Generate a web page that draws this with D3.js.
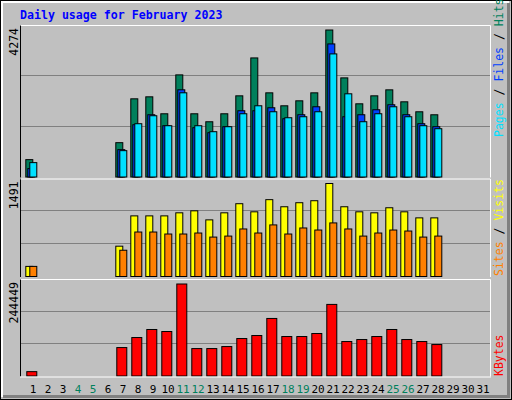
<!DOCTYPE html>
<html><head><meta charset="utf-8">
<script src="https://cdn.jsdelivr.net/npm/d3@7"></script>
<style>body{margin:0;background:#fff}text{font-family:"DejaVu Sans Mono",monospace}</style>
</head><body><svg id="chart" width="512" height="400"></svg>
<script>
// days 1..31, only 1 and 7..28 have traffic
const days = d3.range(1, 32);
const weekends = [4, 5, 11, 12, 18, 19, 25, 26];
const hits   = [505,0,0,0,0,0,998,2273,2331,1838,2969,1838,1606,1838,2360,3462,2447,2070,2215,2447,4274,2882,2128,2360,2534,2186,1896,1809,0,0,0];
const files  = [244,0,0,0,0,0,795,1520,1810,1491,2535,1433,1288,1462,1926,1926,2013,1694,1810,2042,3869,1752,1810,1955,2100,1810,1549,1462,0,0,0];
const pages  = [418,0,0,0,0,0,766,1549,1781,1491,2448,1491,1317,1462,1839,2071,1897,1723,1752,1897,3579,2419,1607,1839,2042,1752,1491,1404,0,0,0];
const visits = [162,0,0,0,0,0,486,972,972,972,1021,1053,908,1021,1167,1037,1232,1118,1183,1215,1491,1118,1037,1021,1102,1037,940,940,0,0,0];
const sites  = [162,0,0,0,0,0,421,713,713,681,681,697,632,648,762,697,827,681,778,745,859,762,648,697,745,729,632,648,0,0,0];
const kbytes = [11556,0,0,0,0,0,75557,102224,123558,118224,244449,72890,72890,78224,99558,107558,152892,104891,104891,112891,190226,91558,96891,104891,123558,96891,91558,83557,0,0,0];

const svg = d3.select("#chart");
svg.append("rect").attr("x",0.5).attr("y",0.5).attr("width",511).attr("height",399).attr("fill","#c0c0c0").attr("stroke","#000");
svg.append("path").attr("d","M2,397V2H509").attr("stroke","#fff").attr("fill","none").attr("stroke-width",2);
svg.append("path").attr("d","M3,396.5H508.5V3").attr("stroke","#808080").attr("fill","none").attr("stroke-width",3);

svg.append("text").attr("x",20).attr("y",19).attr("fill","#0000ff").attr("font-weight","bold")
  .attr("font-size","11.6px").text("Daily usage for February 2023");

const x = d3.scaleBand().domain(days).range([25.3, 25.3 + 15 * 31]).paddingInner(0);

function panel(top, bottom, maxV) {
  svg.append("rect").attr("x",20.5).attr("y",top).attr("width",470).attr("height",bottom-top).attr("fill","#c0c0c0");
  const y = d3.scaleLinear().domain([0, maxV]).range([bottom - 1, top + 4.5]);
  [1, 2].forEach(k => {
    const gy = Math.round(bottom - 1 - k * (bottom - top) / 3) + 0.5;
    svg.append("line").attr("x1",21).attr("x2",490).attr("y1",gy).attr("y2",gy).attr("stroke","#808080");
  });
  svg.append("path").attr("d",`M20.5,${bottom}V${top}`).attr("stroke","#000").attr("fill","none");
  svg.append("path").attr("d",`M20.5,${top+0.5}H490.5V${bottom}`).attr("stroke","#fff").attr("fill","none");
  svg.append("text").attr("transform",`translate(18,${top+3}) rotate(-90)`).attr("text-anchor","end")
    .attr("font-size","11.5px").attr("fill","#000").text(maxV);
  return y;
}

function bars(data, y, off, w, color) {
  svg.append("g").selectAll("rect").data(days.filter((d, i) => data[i] > 0)).join("rect")
    .attr("x", d => x(d) + off + 0.5).attr("width", w)
    .attr("y", d => y(data[d - 1]) + 0.5).attr("height", d => y(0) - y(data[d - 1]))
    .attr("fill", color).attr("stroke", "#000");
}

const y1 = panel(25, 177.5, 4274);
bars(hits, y1, 0, 7, "#00805c");
bars(files, y1, 2, 7, "#0040ff");
bars(pages, y1, 4, 7, "#00e0ff");

const y2 = panel(178.5, 277, 1491);
bars(visits, y2, 0, 7, "#ffff00");
bars(sites, y2, 4, 7, "#ff8000");

const y3 = panel(279, 376.5, 244449);
bars(kbytes, y3, 1, 10, "#ff0000");
svg.append("line").attr("x1",20).attr("x2",491).attr("y1",377).attr("y2",377).attr("stroke","#fff");

svg.append("g").selectAll("text").data(days).join("text")
  .attr("x", d => x(d) + 7.7).attr("y", 393).attr("text-anchor","middle").attr("font-size","11px")
  .attr("fill", d => weekends.includes(d) ? "#00805c" : "#000").text(d => d);

function sideLabel(yBottom, parts) {
  const t = svg.append("text").attr("transform",`translate(503,${yBottom}) rotate(-90)`).attr("font-size","11.5px")
    .attr("xml:space","preserve").style("white-space","pre");
  parts.forEach(([s, c]) => t.append("tspan").attr("fill", c).text(s));
}
sideLabel(137, [["Pages","#00e0ff"],[" / ","#000"],["Files","#0040ff"],[" / ","#000"],["Hits","#00805c"]]);
sideLabel(276, [["Sites","#ff8000"],[" / ","#000"],["Visits","#ffff00"]]);
sideLabel(376, [["KBytes","#ff0000"]]);
</script></body></html>
